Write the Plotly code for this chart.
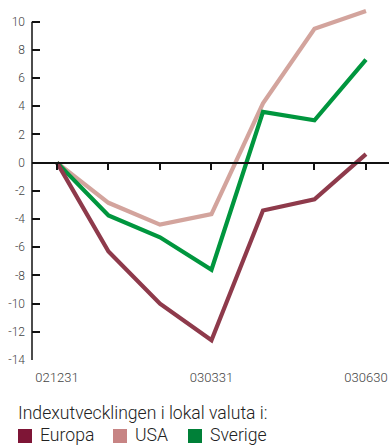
import plotly.graph_objects as go

# Period labels (only every third one is printed on the axis)
periods = ["021231", "030131", "030228", "030331", "030430", "030530", "030630"]
label_periods = ["021231", "030331", "030630"]

# Index development in local currency, % change since 021231
europa = [0.0, -6.3, -10.0, -12.6, -3.4, -2.6, 0.6]
usa = [0.0, -2.85, -4.4, -3.65, 4.2, 9.5, 10.75]
sverige = [0.0, -3.75, -5.3, -7.6, 3.6, 3.0, 7.3]

y_ticks = list(range(-14, 11, 2))

W, H = 389, 445
L, R, T, B = 32, 0, 5, 85
PW, PH = W - L - R, H - T - B

Y_MIN, Y_MAX = -14, 11.18
X_MIN, X_MAX = -0.485, 6.447

line_colors = {"Europa": "#8E3A4B", "USA": "#D3A49D", "Sverige": "#00963E"}
legend_colors = {"Europa": "#7E1536", "USA": "#C78484", "Sverige": "#008038"}

FONT = "Roboto"

xi = list(range(len(periods)))

fig = go.Figure()
for name, vals in [("USA", usa), ("Sverige", sverige), ("Europa", europa)]:
    fig.add_trace(go.Scatter(
        x=xi, y=vals, mode="lines", name=name,
        line=dict(color=line_colors[name], width=4.2),
        xaxis="x2", yaxis="y", showlegend=False,
    ))
# carrier for the bottom label axis
fig.add_trace(go.Scatter(x=[None], y=[None], xaxis="x", yaxis="y",
                         showlegend=False, hoverinfo="skip"))


def px_x(p):
    return (p - L) / PW


def px_y(p):
    return (T + PH - p) / PH


zero_pos = (0 - Y_MIN) / (Y_MAX - Y_MIN)

fig.update_layout(
    width=W, height=H,
    margin=dict(l=L, r=R, t=T, b=B, pad=0),
    paper_bgcolor="white", plot_bgcolor="white",
    font=dict(family=FONT, color="#333333", weight=300),
    xaxis=dict(
        range=[X_MIN, X_MAX], showgrid=False, zeroline=False, showline=False,
        tickmode="array",
        tickvals=[periods.index(p) for p in label_periods],
        ticktext=label_periods, ticks="", ticklabelstandoff=8,
        tickfont=dict(family=FONT, size=13, color="#444444", weight=300),
    ),
    xaxis2=dict(
        range=[X_MIN, X_MAX], overlaying="x", anchor="free", position=zero_pos,
        side="bottom", showgrid=False, zeroline=False, showline=True,
        linecolor="#111111", linewidth=1.5,
        tickmode="array", tickvals=xi, ticks="outside", ticklen=7,
        tickwidth=1.5, tickcolor="#111111", showticklabels=False,
    ),
    yaxis=dict(
        range=[Y_MIN, Y_MAX], showgrid=False, zeroline=False, showline=False,
        tickmode="array", tickvals=y_ticks,
        ticktext=[str(v) for v in y_ticks],
        ticks="inside", ticklen=8, tickwidth=1.5, tickcolor="#111111",
        ticklabelstandoff=6,
        tickfont=dict(family=FONT, size=12, color="#444444", weight=300),
    ),
)

# vertical axis line spanning the labelled range only
fig.add_shape(type="line", xref="paper", yref="y", x0=0, x1=0,
              y0=y_ticks[0], y1=y_ticks[-1],
              line=dict(color="#111111", width=1.5))

# caption and legend underneath the chart
fig.add_annotation(
    text="Indexutvecklingen i lokal valuta i:", xref="paper", yref="paper",
    x=px_x(16), y=px_y(413), xanchor="left", yanchor="middle",
    showarrow=False, font=dict(family=FONT, size=17.6, color="#222222", weight=300),
)
legend_items = [("Europa", 18), ("USA", 113), ("Sverige", 188)]
for name, x0 in legend_items:
    fig.add_shape(type="rect", xref="paper", yref="paper",
                  x0=px_x(x0), x1=px_x(x0 + 14), y0=px_y(443), y1=px_y(429),
                  fillcolor=legend_colors[name], line=dict(width=0))
    fig.add_annotation(
        text=name, xref="paper", yref="paper", x=px_x(x0 + 20), y=px_y(435),
        xanchor="left", yanchor="middle", showarrow=False,
        font=dict(family=FONT, size=17.6, color="#222222", weight=300),
    )

fig.write_html("out.html")
